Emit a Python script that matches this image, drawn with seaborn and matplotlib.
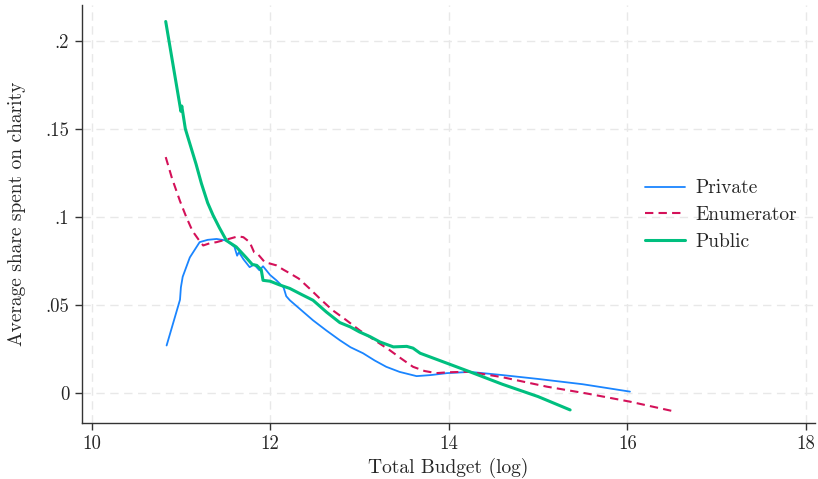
import numpy as np
import pandas as pd
import matplotlib
matplotlib.use("Agg")
import matplotlib.pyplot as plt
import seaborn as sns

# values (x = log budget, y = share spent on charity)
private_x = [10.84, 10.99, 11.00, 11.02, 11.10, 11.21, 11.30, 11.40, 11.51, 11.60,
             11.63, 11.65, 11.70, 11.77, 11.82, 11.88, 11.92, 12.00, 12.07, 12.15,
             12.18, 12.22, 12.35, 12.48, 12.63, 12.78, 12.90, 13.04, 13.17, 13.30,
             13.45, 13.64, 13.80, 13.98, 14.24, 14.60, 15.00, 15.50, 16.03]
private_y = [0.027, 0.053, 0.060, 0.066, 0.077, 0.0857, 0.0870, 0.0875, 0.0866, 0.083,
             0.078, 0.080, 0.076, 0.0715, 0.073, 0.0697, 0.072, 0.067, 0.064, 0.060,
             0.055, 0.0527, 0.047, 0.0413, 0.0355, 0.030, 0.026, 0.0226, 0.0185, 0.0149,
             0.0120, 0.0096, 0.0102, 0.0113, 0.0120, 0.0102, 0.0080, 0.0050, 0.0008]

enum_x = [10.83, 10.90, 10.99, 11.06, 11.13, 11.20, 11.25, 11.32, 11.40, 11.48,
          11.55, 11.64, 11.70, 11.77, 11.82, 11.86, 11.94, 12.00, 12.07, 12.15,
          12.22, 12.32, 12.44, 12.57, 12.70, 12.85, 13.00, 13.17, 13.34, 13.47,
          13.60, 13.73, 13.86, 14.00, 14.16, 14.24, 14.60, 15.10, 15.55, 16.03, 16.54]
enum_y = [0.134, 0.122, 0.109, 0.100, 0.092, 0.087, 0.0838, 0.0850, 0.0857, 0.0868,
          0.0877, 0.0890, 0.0885, 0.0857, 0.0800, 0.0790, 0.0743, 0.0735, 0.0725, 0.0700,
          0.0680, 0.0650, 0.0594, 0.0530, 0.0470, 0.0415, 0.0357, 0.0300, 0.0243, 0.0195,
          0.0149, 0.0125, 0.0113, 0.0118, 0.0120, 0.0120, 0.0090, 0.0036, -0.0003, -0.0049, -0.0106]

public_x = [10.83, 10.90, 10.96, 11.00, 11.01, 11.05, 11.11, 11.17, 11.23, 11.30,
            11.36, 11.43, 11.51, 11.62, 11.73, 11.80, 11.85, 11.90, 11.92, 12.00,
            12.10, 12.22, 12.35, 12.48, 12.63, 12.78, 12.90, 13.00, 13.12, 13.23,
            13.38, 13.53, 13.60, 13.68, 13.95, 14.24, 14.60, 15.00, 15.36]
public_y = [0.211, 0.190, 0.172, 0.160, 0.163, 0.150, 0.140, 0.130, 0.119, 0.108,
            0.101, 0.094, 0.0866, 0.083, 0.077, 0.073, 0.0725, 0.070, 0.064, 0.0635,
            0.0615, 0.0594, 0.056, 0.0527, 0.046, 0.040, 0.0375, 0.0347, 0.032, 0.029,
            0.0262, 0.0265, 0.0255, 0.0226, 0.0175, 0.0120, 0.0050, -0.0020, -0.0096]

groups = ["Private", "Enumerator", "Public"]
palette = {"Private": "#1a85ff", "Enumerator": "#d41159", "Public": "#00bf7f"}

df = pd.concat([
    pd.DataFrame({"budget": private_x, "share": private_y, "group": "Private"}),
    pd.DataFrame({"budget": enum_x, "share": enum_y, "group": "Enumerator"}),
    pd.DataFrame({"budget": public_x, "share": public_y, "group": "Public"}),
], ignore_index=True)

sns.set_style("white")
plt.rcParams["font.family"] = ["cmr10", "DejaVu Serif"]
plt.rcParams["axes.formatter.use_mathtext"] = True

fig, ax = plt.subplots(figsize=(8.18, 4.79), dpi=100)
fig.subplots_adjust(left=0.1, right=0.996, top=0.99, bottom=0.117)

sns.lineplot(
    data=df, x="budget", y="share", hue="group", style="group",
    hue_order=groups, style_order=groups, palette=palette,
    dashes={"Private": "", "Enumerator": (4, 2.5), "Public": ""},
    size="group", sizes={"Private": 1.3, "Enumerator": 1.5, "Public": 2.2},
    size_order=groups,
    sort=False, estimator=None, ax=ax,
)

ax.set_xlim(9.89, 18.1)
ax.set_ylim(-0.017, 0.2205)
ax.set_xticks([10, 12, 14, 16, 18])
ax.set_xticklabels(["10", "12", "14", "16", "18"])
ax.set_yticks([0, 0.05, 0.1, 0.15, 0.2])
ax.set_yticklabels(["0", ".05", ".1", ".15", ".2"])
ax.grid(True, color="#e8e8e8", linestyle=(0, (6, 4)), linewidth=1.0)
ax.set_axisbelow(True)

for side in ["top", "right"]:
    ax.spines[side].set_visible(False)
for side in ["left", "bottom"]:
    ax.spines[side].set_color("#333333")
    ax.spines[side].set_linewidth(1.0)
ax.tick_params(axis="both", direction="out", length=5, width=1, color="#333333",
               labelsize=13.5, left=True, bottom=True, pad=4)

ax.set_xlabel("Total Budget (log)", fontsize=14, labelpad=3)
ax.set_ylabel("Average share spent on charity", fontsize=14, labelpad=14)

handles, labels = ax.get_legend_handles_labels()
ax.legend(handles, labels, loc="center left", bbox_to_anchor=(0.745, 0.497),
          frameon=False, fontsize=14, handlelength=2.05, handletextpad=0.5,
          labelspacing=0.45)

fig.savefig("out.png", dpi=100)
